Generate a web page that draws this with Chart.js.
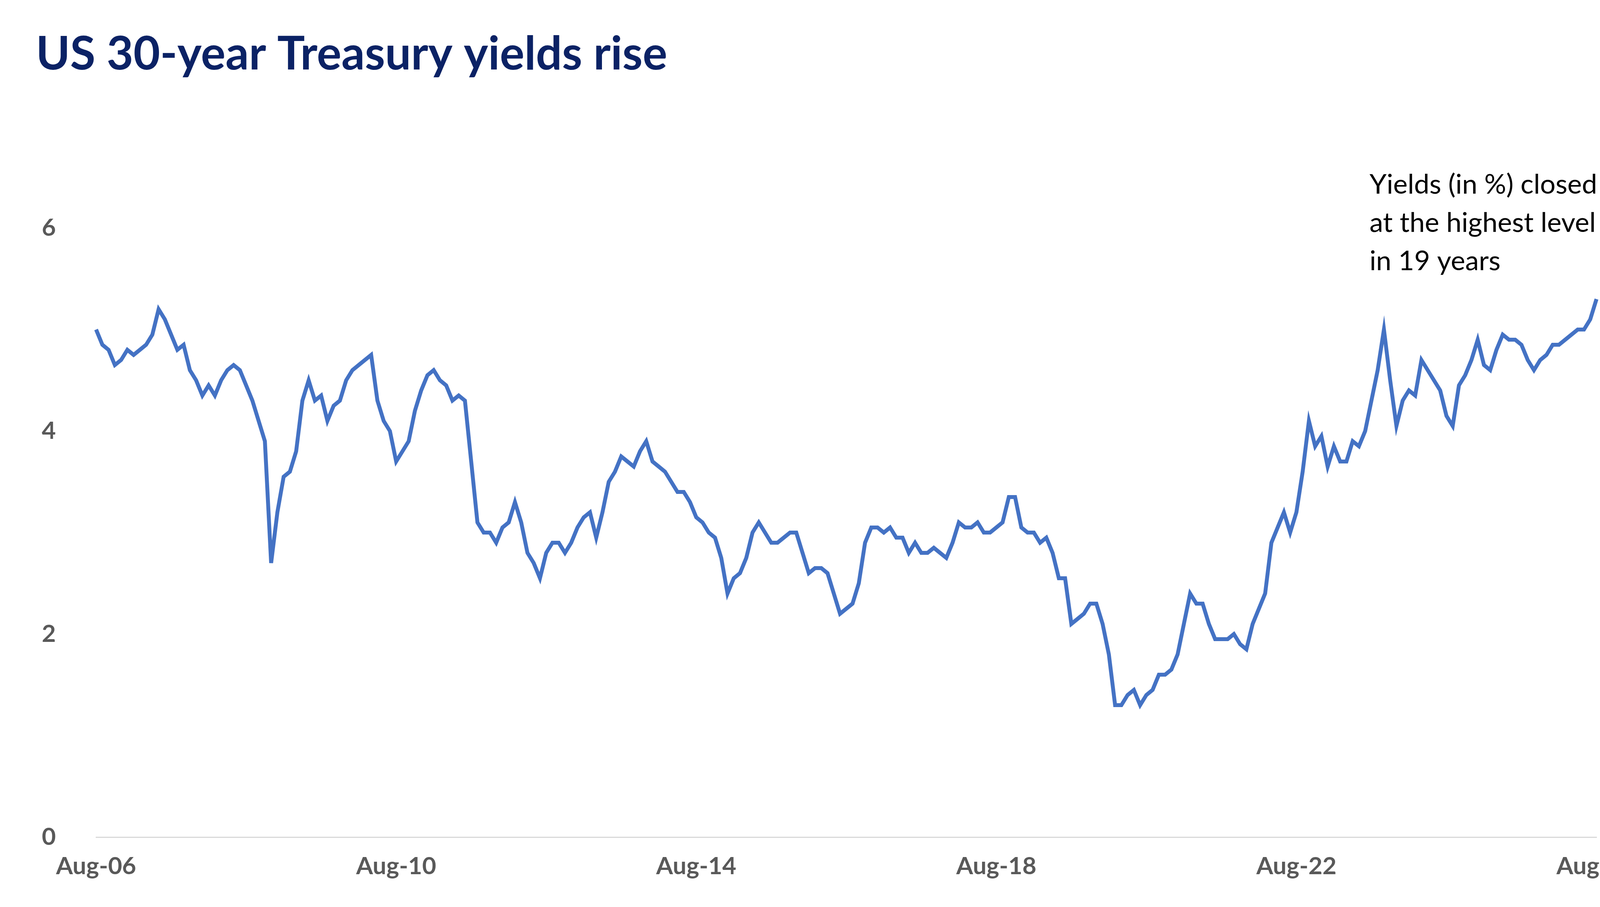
<!DOCTYPE html>
<html><head><meta charset="utf-8">
<script src="https://cdn.jsdelivr.net/npm/chart.js@4/dist/chart.umd.min.js"></script>
<style>html,body{margin:0;padding:0;background:#fff}#w{width:4239px;height:2323px;position:relative}canvas{display:block}</style>
</head><body><div id="w"><canvas id="c" width="4239" height="2323"></canvas></div>
<script>
const title = "US 30-year Treasury yields rise";
const note = ["Yields (in %) closed", "at the highest level", "in 19 years"];
const yTicks = [0, 2, 4, 6];
const startYear = 2006, startMonth = 7; // Aug-06
const yields = [
 5.0,4.85,4.8,4.65,4.7,
 4.8,4.75,4.8,4.85,4.95,5.2,5.1,4.95,4.8,4.85,4.6,4.5,
 4.35,4.45,4.35,4.5,4.6,4.65,4.6,4.45,4.3,4.1,3.9,2.7,
 3.2,3.55,3.6,3.8,4.3,4.5,4.3,4.35,4.1,4.25,4.3,4.5,
 4.6,4.65,4.7,4.75,4.3,4.1,4.0,3.7,3.8,3.9,4.2,4.4,
 4.55,4.6,4.5,4.45,4.3,4.35,4.3,3.7,3.1,3.0,3.0,2.9,
 3.05,3.1,3.3,3.1,2.8,2.7,2.55,2.8,2.9,2.9,2.8,2.9,
 3.05,3.15,3.2,2.95,3.2,3.5,3.6,3.75,3.7,3.65,3.8,3.9,
 3.7,3.65,3.6,3.5,3.4,3.4,3.3,3.15,3.1,3.0,2.95,2.75,
 2.4,2.55,2.6,2.75,3.0,3.1,3.0,2.9,2.9,2.95,3.0,3.0,
 2.8,2.6,2.65,2.65,2.6,2.4,2.2,2.25,2.3,2.5,2.9,3.05,
 3.05,3.0,3.05,2.95,2.95,2.8,2.9,2.8,2.8,2.85,2.8,2.75,
 2.9,3.1,3.05,3.05,3.1,3.0,3.0,3.05,3.1,3.35,3.35,3.05,
 3.0,3.0,2.9,2.95,2.8,2.55,2.55,2.1,2.15,2.2,2.3,2.3,
 2.1,1.8,1.3,1.3,1.4,1.45,1.3,1.4,1.45,1.6,1.6,1.65,
 1.8,2.1,2.4,2.3,2.3,2.1,1.95,1.95,1.95,2.0,1.9,1.85,
 2.1,2.25,2.4,2.9,3.05,3.2,3.0,3.2,3.6,4.1,3.85,3.95,
 3.65,3.85,3.7,3.7,3.9,3.85,4.0,4.3,4.6,5.0,4.5,4.05,
 4.3,4.4,4.35,4.7,4.6,4.5,4.4,4.15,4.05,4.45,4.55,4.7,
 4.9,4.65,4.6,4.8,4.95,4.9,4.9,4.85,4.7,4.6,4.7,4.75,
 4.85,4.85,4.9,4.95,5.0,5.0,5.1,5.3
];
const monthNames = ["Jan","Feb","Mar","Apr","May","Jun","Jul","Aug","Sep","Oct","Nov","Dec"];
const labels = yields.map((_, i) => {
  const m = (startMonth + i) % 12, y = startYear + Math.floor((startMonth + i) / 12);
  return monthNames[m] + "-" + String(y % 100).padStart(2, "0");
});
const textPlugin = {
  id: "texts",
  afterDraw(chart) {
    const ctx = chart.ctx;
    ctx.save();
    ctx.fillStyle = "#0b2265";
    ctx.font = "bold 118px Lato, 'Open Sans', sans-serif";
    ctx.textBaseline = "middle";
    ctx.textAlign = "left";
    ctx.fillText(title, 92, 140);
    ctx.fillStyle = "#000";
    ctx.font = "70px Lato, 'Open Sans', sans-serif";
    note.forEach((t, i) => ctx.fillText(t, 3506, 473 + i * 98));
    ctx.restore();
  }
};
new Chart(document.getElementById("c"), {
  type: "line",
  data: { labels, datasets: [{ data: yields, borderColor: "#4472C4", borderWidth: 10, pointRadius: 0, tension: 0, fill: false }] },
  options: {
    responsive: false, animation: false, devicePixelRatio: 1,
    layout: { padding: { top: 584, right: 152, bottom: 30, left: 0 } },
    plugins: { legend: { display: false }, tooltip: { enabled: false } },
    scales: {
      x: {
        offset: false,
        grid: { display: false },
        border: { color: "#d9d9d9", width: 3 },
        ticks: {
          autoSkip: false, maxRotation: 0, padding: 30,
          color: "#595959", font: { size: 62, weight: "bold", family: "Lato, 'Open Sans', sans-serif" },
          callback: (v, i) => (i % 48 === 0 ? labels[i] : null)
        },
        afterFit: s => { s.height = 149; }
      },
      y: {
        min: 0, max: 6,
        afterBuildTicks: s => { s.ticks = yTicks.map(v => ({ value: v })); },
        grid: { display: false },
        border: { display: false },
        ticks: { padding: 95, color: "#595959", font: { size: 62, weight: "bold", family: "Lato, 'Open Sans', sans-serif" } },
        afterFit: s => { s.width = 246; }
      }
    }
  },
  plugins: [textPlugin]
});
</script>
</body></html>
